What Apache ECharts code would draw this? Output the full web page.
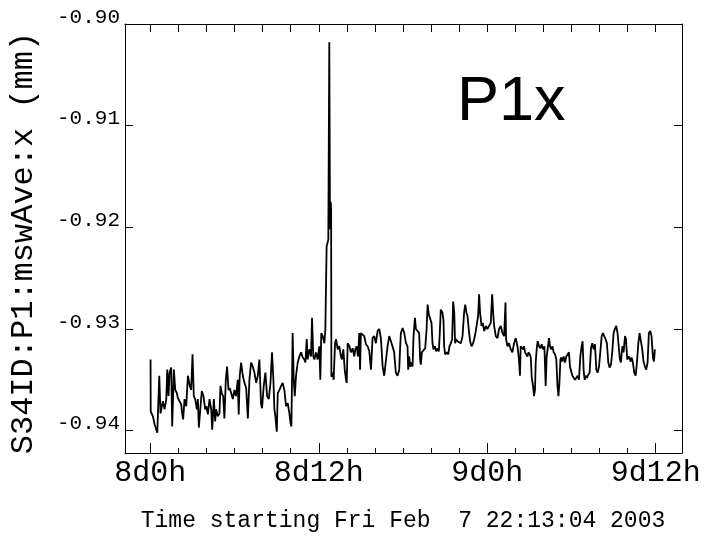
<!DOCTYPE html>
<html>
<head>
<meta charset="utf-8">
<script src="https://cdn.jsdelivr.net/npm/echarts@6/dist/echarts.min.js"></script>
<style>
html,body{margin:0;padding:0;background:#fff;}
#chart{width:708px;height:536px;}
</style>
</head>
<body>
<div id="chart"></div>
<script>
// Hours since 8d0h
const timeHours = [
  0.02, 0.03, 0.19, 0.31, 0.50, 0.64, 0.73, 0.90, 1.02, 1.14,
  1.21, 1.30, 1.37, 1.49, 1.56, 1.68, 1.78, 1.89, 1.97, 2.08,
  2.20, 2.27, 2.34, 2.44, 2.56, 2.68, 2.80, 2.91, 3.01, 3.10,
  3.20, 3.32, 3.39, 3.46, 3.58, 3.67, 3.79, 3.91, 4.00, 4.10,
  4.22, 4.34, 4.41, 4.53, 4.62, 4.69, 4.81, 4.93, 5.00, 5.09,
  5.19, 5.28, 5.38, 5.47, 5.57, 5.66, 5.76, 5.88, 5.99, 6.11,
  6.23, 6.30, 6.37, 6.47, 6.59, 6.71, 6.83, 6.95, 7.06, 7.18,
  7.30, 7.42, 7.54, 7.66, 7.77, 7.89, 7.96, 8.08, 8.20, 8.32,
  8.44, 8.56,
  8.67, 8.77, 8.84, 8.91, 9.01, 9.08, 9.20, 9.32, 9.43, 9.55,
  9.67, 9.79, 9.91, 9.98, 10.05, 10.14, 10.22, 10.29, 10.38, 10.50,
  10.62, 10.74, 10.86, 10.97, 11.05, 11.14, 11.21, 11.33, 11.45, 11.52,
  11.61, 11.69, 11.80, 11.92, 12.04, 12.11, 12.18, 12.28, 12.40,
  12.47, 12.52, 12.56, 12.68, 12.75, 12.80, 12.85, 12.88, 12.90,
  12.99, 13.06, 13.16, 13.23, 13.35, 13.46, 13.58, 13.65, 13.75, 13.85,
  13.94, 13.99, 14.06, 14.18, 14.29, 14.41, 14.53, 14.60, 14.70, 14.79,
  14.89, 14.94, 15.00, 15.12, 15.24, 15.36, 15.48, 15.60, 15.67, 15.72,
  15.83, 15.95, 16.07, 16.19, 16.31, 16.43, 16.55, 16.66, 16.78, 16.90,
  17.02, 17.14, 17.25, 17.37, 17.49, 17.61, 17.73,
  17.80, 17.85, 17.97, 18.09, 18.21, 18.32, 18.37, 18.44, 18.51, 18.61,
  18.68, 18.75, 18.85, 18.92, 19.03, 19.15, 19.22, 19.27, 19.34, 19.46,
  19.58, 19.68, 19.75, 19.84, 19.94, 20.03, 20.10, 20.17, 20.27, 20.36,
  20.46, 20.55, 20.62, 20.69, 20.81, 20.88, 20.93, 21.00, 21.12, 21.22,
  21.31, 21.41, 21.50, 21.57, 21.65, 21.71, 21.78, 21.88, 21.99, 22.12,
  22.24, 22.35, 22.43, 22.52, 22.59, 22.71, 22.78, 22.88, 22.97, 23.07,
  23.16, 23.26, 23.35, 23.42, 23.49, 23.59, 23.68, 23.78, 23.90, 24.01,
  24.13, 24.25, 24.35, 24.42, 24.49, 24.61, 24.73, 24.84, 24.96, 25.08,
  25.20, 25.30, 25.34, 25.44, 25.55, 25.67, 25.79, 25.91, 26.03, 26.15,
  26.26, 26.33, 26.38,
  26.55, 26.62, 26.69, 26.79, 26.86, 26.93, 27.03, 27.10, 27.17, 27.26,
  27.33, 27.40, 27.45, 27.52, 27.59, 27.69, 27.78, 27.88, 27.97, 28.07,
  28.16, 28.23, 28.31, 28.40, 28.47, 28.54, 28.64, 28.73, 28.83, 28.92,
  29.00, 29.07, 29.14, 29.21, 29.28, 29.35, 29.44, 29.54, 29.63, 29.73,
  29.82, 29.89, 29.99, 30.06, 30.16, 30.25, 30.35, 30.44, 30.53, 30.63,
  30.72, 30.79, 30.87, 30.94, 31.01, 31.10, 31.20, 31.29, 31.39, 31.48,
  31.58, 31.67, 31.77, 31.86, 31.96, 32.05, 32.15, 32.24, 32.33, 32.43,
  32.52, 32.62, 32.71, 32.81, 32.90, 33.00, 33.09, 33.19, 33.28, 33.38,
  33.45, 33.52, 33.62, 33.71, 33.81, 33.88, 33.97, 34.09, 34.21, 34.28,
  34.37, 34.47, 34.57, 34.66, 34.76, 34.85, 34.94, 35.04, 35.13, 35.23,
  35.32, 35.42, 35.51, 35.61, 35.70, 35.80, 35.87, 35.94
];

// S34ID:P1:mswAve:x (mm)
const positionMm = [
  -0.9330, -0.9381, -0.9386, -0.9394, -0.9402, -0.9346, -0.9383, -0.9371, -0.9379, -0.9369,
  -0.9340, -0.9366, -0.9343, -0.9338, -0.9396, -0.9340, -0.9360, -0.9363, -0.9368, -0.9371,
  -0.9374, -0.9383, -0.9389, -0.9369, -0.9376, -0.9346, -0.9355, -0.9360, -0.9325, -0.9366,
  -0.9369, -0.9379, -0.9369, -0.9397, -0.9376, -0.9361, -0.9366, -0.9379, -0.9376, -0.9384,
  -0.9369, -0.9379, -0.9399, -0.9369, -0.9391, -0.9379, -0.9386, -0.9383, -0.9356, -0.9363,
  -0.9366, -0.9388, -0.9350, -0.9337, -0.9360, -0.9358, -0.9363, -0.9369, -0.9360, -0.9366,
  -0.9350, -0.9384, -0.9346, -0.9333, -0.9346, -0.9353, -0.9358, -0.9388, -0.9350, -0.9333,
  -0.9337, -0.9343, -0.9353, -0.9346, -0.9330, -0.9374, -0.9378, -0.9356, -0.9343, -0.9366,
  -0.9369, -0.9353,
  -0.9323, -0.9350, -0.9379, -0.9386, -0.9401, -0.9363, -0.9360, -0.9356, -0.9353, -0.9360,
  -0.9376, -0.9373, -0.9383, -0.9392, -0.9396, -0.9304, -0.9350, -0.9366, -0.9346, -0.9333,
  -0.9327, -0.9323, -0.9328, -0.9330, -0.9333, -0.9310, -0.9330, -0.9320, -0.9327, -0.9289,
  -0.9327, -0.9330, -0.9323, -0.9330, -0.9317, -0.9350, -0.9304, -0.9307, -0.9314,
  -0.9300, -0.9254, -0.9219, -0.9212, -0.9018, -0.9202, -0.9175, -0.9182, -0.9347,
  -0.9343, -0.9350, -0.9314, -0.9310, -0.9320, -0.9317, -0.9327, -0.9330, -0.9320, -0.9340,
  -0.9350, -0.9353, -0.9314, -0.9317, -0.9323, -0.9319, -0.9327, -0.9320, -0.9317, -0.9327,
  -0.9304, -0.9340, -0.9304, -0.9305, -0.9307, -0.9315, -0.9317, -0.9322, -0.9333, -0.9340,
  -0.9309, -0.9307, -0.9314, -0.9302, -0.9300, -0.9310, -0.9337, -0.9346, -0.9346, -0.9317,
  -0.9307, -0.9312, -0.9317, -0.9323, -0.9343, -0.9346, -0.9340,
  -0.9317, -0.9304, -0.9299, -0.9304, -0.9314, -0.9317, -0.9340, -0.9327, -0.9337, -0.9333,
  -0.9337, -0.9307, -0.9289, -0.9300, -0.9299, -0.9304, -0.9330, -0.9335, -0.9323, -0.9322,
  -0.9319, -0.9300, -0.9276, -0.9286, -0.9287, -0.9294, -0.9314, -0.9320, -0.9317, -0.9322,
  -0.9319, -0.9322, -0.9304, -0.9281, -0.9284, -0.9291, -0.9317, -0.9325, -0.9323, -0.9325,
  -0.9317, -0.9314, -0.9310, -0.9273, -0.9284, -0.9314, -0.9310, -0.9312, -0.9312, -0.9314,
  -0.9307, -0.9284, -0.9276, -0.9284, -0.9287, -0.9304, -0.9312, -0.9317, -0.9315, -0.9310,
  -0.9304, -0.9305, -0.9287, -0.9266, -0.9284, -0.9297, -0.9294, -0.9302, -0.9297, -0.9300,
  -0.9297, -0.9294, -0.9266, -0.9284, -0.9297, -0.9307, -0.9309, -0.9300, -0.9297, -0.9304,
  -0.9307, -0.9274, -0.9310, -0.9317, -0.9314, -0.9320, -0.9323, -0.9314, -0.9309, -0.9317,
  -0.9330, -0.9346, -0.9317,
  -0.9320, -0.9317, -0.9323, -0.9322, -0.9327, -0.9323, -0.9325, -0.9328, -0.9348, -0.9356,
  -0.9366, -0.9360, -0.9333, -0.9320, -0.9312, -0.9317, -0.9319, -0.9315, -0.9320, -0.9317,
  -0.9356, -0.9327, -0.9319, -0.9309, -0.9317, -0.9320, -0.9317, -0.9323, -0.9325, -0.9330,
  -0.9356, -0.9366, -0.9353, -0.9330, -0.9328, -0.9332, -0.9327, -0.9333, -0.9327, -0.9328,
  -0.9323, -0.9337, -0.9342, -0.9346, -0.9345, -0.9350, -0.9351, -0.9346, -0.9350, -0.9327,
  -0.9317, -0.9312, -0.9342, -0.9350, -0.9346, -0.9348, -0.9345, -0.9343, -0.9319, -0.9314,
  -0.9320, -0.9315, -0.9340, -0.9343, -0.9337, -0.9338, -0.9307, -0.9304, -0.9307, -0.9310,
  -0.9314, -0.9333, -0.9338, -0.9335, -0.9323, -0.9304, -0.9300, -0.9297, -0.9304, -0.9320,
  -0.9330, -0.9333, -0.9317, -0.9323, -0.9307, -0.9310, -0.9330, -0.9327, -0.9332, -0.9328,
  -0.9333, -0.9343, -0.9346, -0.9333, -0.9314, -0.9304, -0.9305, -0.9320, -0.9332, -0.9337,
  -0.9340, -0.9333, -0.9304, -0.9302, -0.9307, -0.9328, -0.9332, -0.9320
];

const xTickHours = [0, 12, 24, 36];
const xTickLabels = ['8d0h', '8d12h', '9d0h', '9d12h'];
const xMinorHours = [2, 4, 6, 8, 10, 14, 16, 18, 20, 22, 26, 28, 30, 32, 34];
const xTopHours = [0, 2, 4, 6, 8, 10, 12, 14, 16, 18, 20, 22, 24, 26, 28, 30, 32, 34, 36];
const yTicks = [-0.94, -0.93, -0.92, -0.91, -0.90];
const yTickLabels = ['-0.94', '-0.93', '-0.92', '-0.91', '-0.90'];
const yTitle = 'S34ID:P1:mswAve:x (mm)';
const xTitle = 'Time starting Fri Feb  7 22:13:04 2003';
const panelLabel = 'P1x';

const X_MIN = -1.8, X_MAX = 37.87;
const Y_MIN = -0.9422, Y_MAX = -0.9;

const chart = echarts.init(document.getElementById('chart'), null, {renderer: 'canvas'});
const mono = 'Liberation Mono';
const lineBlack = {color: '#000', width: 1};

const data = timeHours.map((h, i) => [h, positionMm[i]]);

chart.setOption({
  animation: false,
  backgroundColor: '#fff',
  grid: {left: 125, right: 26, top: 24, bottom: 83, containLabel: false},
  xAxis: [
    {
      type: 'value', min: X_MIN, max: X_MAX, position: 'bottom',
      axisLine: {show: true, onZero: false, lineStyle: lineBlack},
      axisTick: {show: true, inside: true, length: 10, lineStyle: lineBlack, customValues: xTickHours},
      axisLabel: {
        show: true, customValues: xTickHours, margin: 5,
        fontFamily: mono, fontSize: 30, color: '#000',
        formatter: v => xTickLabels[xTickHours.indexOf(Math.round(v))] || ''
      },
      splitLine: {show: false}
    },
    {
      type: 'value', min: X_MIN, max: X_MAX, position: 'bottom',
      axisLine: {show: false, onZero: false},
      axisTick: {show: true, inside: true, length: 5, lineStyle: lineBlack, customValues: xMinorHours},
      axisLabel: {show: false},
      splitLine: {show: false}
    },
    {
      type: 'value', min: X_MIN, max: X_MAX, position: 'top',
      axisLine: {show: true, onZero: false, lineStyle: lineBlack},
      axisTick: {show: true, inside: true, length: 8, lineStyle: lineBlack, customValues: xTopHours},
      axisLabel: {show: false},
      splitLine: {show: false}
    }
  ],
  yAxis: [
    {
      type: 'value', min: Y_MIN, max: Y_MAX, position: 'left',
      axisLine: {show: true, onZero: false, lineStyle: lineBlack},
      axisTick: {show: true, inside: true, length: 8, lineStyle: lineBlack, customValues: yTicks},
      axisLabel: {
        show: true, customValues: yTicks, margin: 5,
        fontFamily: mono, fontSize: 21, color: '#000',
        verticalAlign: 'bottom', lineHeight: 14,
        formatter: v => yTickLabels[yTicks.findIndex(t => Math.abs(t - v) < 1e-6)] || ''
      },
      splitLine: {show: false}
    },
    {
      type: 'value', min: Y_MIN, max: Y_MAX, position: 'right',
      axisLine: {show: true, onZero: false, lineStyle: lineBlack},
      axisTick: {show: true, inside: true, length: 8, lineStyle: lineBlack, customValues: yTicks},
      axisLabel: {show: false},
      splitLine: {show: false}
    }
  ],
  series: [
    {
      type: 'line', xAxisIndex: 0, yAxisIndex: 0,
      data: data, showSymbol: false, symbol: 'none',
      lineStyle: {color: '#000', width: 1.8},
      z: 5
    }
  ],
  graphic: [
    {
      type: 'text', x: 24, y: 243, rotation: Math.PI / 2,
      style: {text: yTitle, font: '32px "Liberation Mono"', fill: '#000', textAlign: 'center', textVerticalAlign: 'middle'}
    },
    {
      type: 'text', x: 403, y: 521,
      style: {text: xTitle, font: '23px "Liberation Mono"', fill: '#000', textAlign: 'center', textVerticalAlign: 'middle'}
    },
    {
      type: 'text', x: 457, y: 103,
      style: {text: panelLabel, font: '63px "Liberation Sans"', fill: '#000', textAlign: 'left', textVerticalAlign: 'middle'}
    }
  ]
});
</script>
</body>
</html>
